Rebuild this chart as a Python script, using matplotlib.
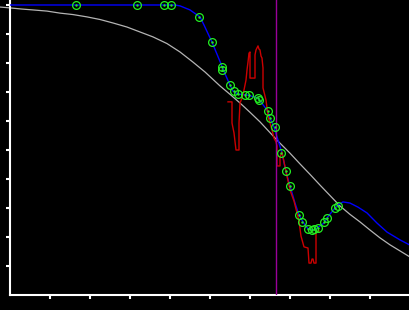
import matplotlib
matplotlib.use("Agg")
from matplotlib import pyplot as plt

# reference curve (grey)
ref_x = [-0.25, 0, 0.3, 0.575, 0.925, 1.25, 1.575, 1.925, 2.25, 2.575, 2.925, 3.25, 3.575,
         3.925, 4.25, 4.575, 4.875, 5.25, 5.5, 5.75, 6.0, 6.25, 6.675, 7.0, 7.25, 7.5, 7.75,
         8.0, 8.25, 8.5, 8.75, 9.0, 9.25, 9.5, 9.75, 10.0]
ref_y = [9.93, 9.90, 9.86, 9.83, 9.79, 9.72, 9.67, 9.59, 9.50, 9.38, 9.24, 9.07, 8.90,
         8.67, 8.38, 8.03, 7.69, 7.21, 6.92, 6.62, 6.30, 5.97, 5.34, 4.89, 4.52, 4.16, 3.79,
         3.43, 3.07, 2.78, 2.52, 2.24, 1.97, 1.73, 1.52, 1.31]

# fitted curve (blue)
fit_x = [0, 4.125, 4.25, 4.5, 4.675, 4.75, 4.85, 5.05, 5.275, 5.4, 5.5, 5.575, 5.7, 5.925,
         6.2, 6.425, 6.5, 6.6, 6.7, 6.8, 6.9, 7.0, 7.125, 7.225, 7.325, 7.45, 7.575, 7.675,
         7.85, 7.925, 8.125, 8.2, 8.325, 8.5, 8.7, 8.925, 9.175, 9.425, 9.75, 10.0]
fit_y = [10.0, 10.0, 9.97, 9.83, 9.66, 9.59, 9.31, 8.72, 7.97, 7.55, 7.24, 7.03, 6.93, 6.90,
         6.79, 6.38, 6.10, 5.79, 5.34, 4.90, 4.24, 3.76, 3.17, 2.76, 2.52, 2.28, 2.24, 2.31,
         2.48, 2.66, 3.0, 3.10, 3.21, 3.17, 3.03, 2.83, 2.48, 2.17, 1.90, 1.72]

# raw signal (red)
raw_x = [5.45, 5.55, 5.55, 5.6, 5.65, 5.725, 5.725, 5.75, 5.8, 5.85, 5.9, 5.925, 5.95, 5.975,
         6.0, 6.0, 6.125, 6.125, 6.15, 6.2, 6.225, 6.25, 6.275, 6.3, 6.325, 6.325, 6.35, 6.4,
         6.425, 6.45, 6.5, 6.55, 6.6, 6.65, 6.675, 6.675, 6.75, 6.75, 6.8, 6.85, 6.925, 7.0,
         7.1, 7.175, 7.225, 7.275, 7.35, 7.45, 7.475, 7.525, 7.55, 7.575, 7.6, 7.65, 7.65,
         7.725]
raw_y = [6.66, 6.66, 5.93, 5.59, 5.0, 5.0, 5.93, 6.62, 6.79, 7.07, 7.41, 7.76, 8.03, 8.34,
         8.38, 7.48, 7.48, 8.28, 8.45, 8.59, 8.48, 8.45, 8.24, 8.17, 7.83, 7.14, 7.0, 6.72,
         6.45, 6.17, 5.93, 5.69, 5.41, 5.28, 5.14, 4.45, 4.45, 4.76, 4.93, 4.59, 4.10, 3.62,
         3.24, 2.83, 2.55, 2.03, 1.66, 1.62, 1.10, 1.10, 1.24, 1.24, 1.10, 1.10, 2.17, 2.21]

# sample points (green circles)
pts_x = [1.65, 3.175, 3.85, 4.025, 4.725, 5.05, 5.3, 5.3, 5.5, 5.6, 5.7, 5.875, 5.975, 6.2,
         6.225, 6.45, 6.5, 6.625, 6.775, 6.9, 7.0, 7.225, 7.3, 7.45, 7.55, 7.6, 7.7, 7.85,
         7.925, 8.125, 8.2]
pts_y = [10.0, 10.0, 10.0, 10.0, 9.59, 8.72, 7.86, 7.76, 7.24, 7.03, 6.93, 6.90, 6.90, 6.79,
         6.72, 6.34, 6.10, 5.79, 4.90, 4.28, 3.76, 2.76, 2.52, 2.28, 2.24, 2.28, 2.31, 2.52,
         2.66, 3.0, 3.07]

marker_x = 6.66

fig = plt.figure(figsize=(4.1, 3.1), dpi=100, facecolor="black")
ax = fig.add_axes([10 / 410, 15 / 310, 400 / 410, 295 / 310])
ax.set_facecolor("black")

ax.plot(ref_x, ref_y, color="#b4b4b4", lw=0.9, clip_on=False, zorder=2)
ax.plot(fit_x, fit_y, color="#0000ff", lw=1.0, zorder=3)
ax.plot(raw_x, raw_y, color="#cc0000", lw=1.0, zorder=4)
ax.axvline(marker_x, color="#9a009a", lw=1.0, zorder=5)
ax.plot(pts_x, pts_y, "o", ms=5.6, mfc="none", mec="#22ee22", mew=0.9, zorder=6)
ax.plot(pts_x, pts_y, ".", ms=1.5, color="#22ee22", zorder=6)

ax.set_xlim(0, 10)
ax.set_ylim(0, 295 / 29)
ax.set_xticks(range(1, 10))
ax.set_yticks(range(1, 11))
ax.set_xticklabels([])
ax.set_yticklabels([])
ax.tick_params(colors="white", length=3, width=1.5, direction="out")
for side in ["top", "right"]:
    ax.spines[side].set_visible(False)
for side in ["left", "bottom"]:
    ax.spines[side].set_color("white")
    ax.spines[side].set_linewidth(1.5)

plt.savefig("out.png", dpi=100, facecolor="black")
